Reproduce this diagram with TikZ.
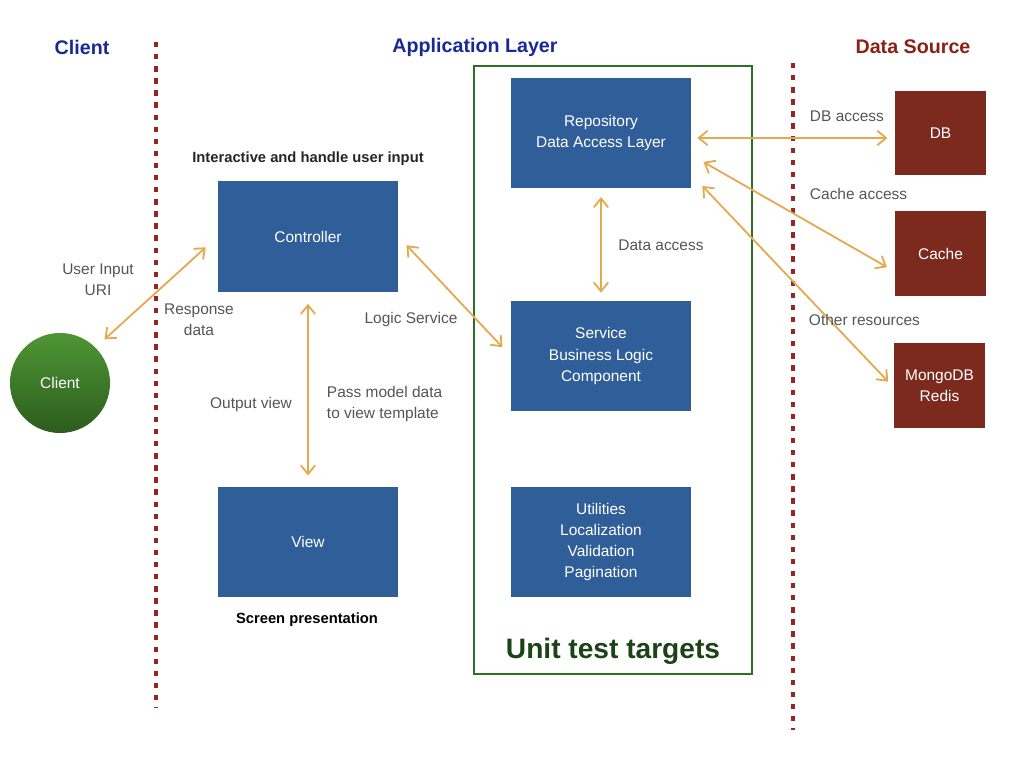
\documentclass[tikz,border=0pt]{standalone}
\usepackage{fontspec}
\setmainfont{Liberation Sans}
\usetikzlibrary{arrows.meta}
\definecolor{boxblue}{RGB}{47,94,153}
\definecolor{boxred}{RGB}{125,42,30}
\definecolor{linkorange}{RGB}{228,170,80}
\definecolor{headblue}{RGB}{24,40,150}
\definecolor{headred}{RGB}{140,32,22}
\definecolor{sepred}{RGB}{150,38,38}
\definecolor{testgreen}{RGB}{47,110,38}
\definecolor{labelgray}{RGB}{85,85,85}
\definecolor{clienttop}{RGB}{78,150,52}
\definecolor{clientbot}{RGB}{44,92,30}
\begin{document}
\begin{tikzpicture}[x=0.025cm,y=-0.025cm,
  bloc/.style={fill=boxblue,text=white,minimum width=4.5cm,minimum height=2.75cm,align=center,font=\fontsize{11}{15}\selectfont},
  src/.style={fill=boxred,text=white,minimum width=2.275cm,minimum height=2.1cm,align=center,font=\fontsize{11}{15}\selectfont},
  lien/.style={draw=linkorange,line width=1.3pt,{Straight Barb[length=2.2mm,width=3.6mm]}-{Straight Barb[length=2.2mm,width=3.6mm]}},
  lbl/.style={text=labelgray,align=center,font=\fontsize{11}{15}\selectfont},
  titre/.style={font=\fontsize{14}{16}\selectfont\bfseries},
  sep/.style={draw=sepred,line width=2.4pt,dash pattern=on 3.8pt off 4.8pt}]
\useasboundingbox (0,0) rectangle (1024,768);
% column separators and test frame
\draw[sep] (156,42) -- (156,708);
\draw[sep] (793,63) -- (793,730);
\draw[draw=testgreen,line width=1.8pt] (474,66) rectangle (752,674);
% headings
\node[titre,text=headblue] (hclient) at (82,47) {Client};
\node[titre,text=headblue] (happ) at (475,47) {Application Layer};
\node[titre,text=headred] (hdata) at (913,47) {Data Source};
\node[font=\fontsize{20}{24}\selectfont\bfseries,text=testgreen!60!black] (unit) at (613,651) {Unit test targets};
% boxes
\foreach \n/\x/\y/\t in {ctrl/308/236.5/Controller, view/308/542/View,
    repo/601/133/{Repository\\Data Access Layer},
    svc/601/356/{Service\\Business Logic\\Component},
    util/601/542/{Utilities\\Localization\\Validation\\Pagination}}
  \node[bloc] (\n) at (\x,\y) {\t};
\foreach \n/\x/\y/\t in {db/940.5/133/DB, cache/940.5/253.5/Cache, mongo/939.5/385.5/{MongoDB\\Redis}}
  \node[src] (\n) at (\x,\y) {\t};
\node[circle,minimum size=2.5cm,top color=clienttop,bottom color=clientbot,text=white,font=\fontsize{11}{15}\selectfont] (client) at (60,383) {Client};
\node[font=\fontsize{10.5}{12}\selectfont\bfseries,text=black!85] (ctrlnote) at (308,159) {Interactive and handle user input};
\node[font=\fontsize{10.5}{12}\selectfont\bfseries] (viewnote) at (307,620) {Screen presentation};
% connectors
\draw[lien,shorten <=0.3cm,shorten >=0.4cm] (client.45) -- (ctrl.west);
\draw[lien,shorten <=0.3cm,shorten >=0.28cm] (ctrl.south) -- (view.north);
\draw[lien,shorten <=0.3cm,shorten >=0.3cm] (ctrl.east) -- (svc.west);
\draw[lien,shorten <=0.22cm,shorten >=0.2cm] (repo.south) -- (svc.north);
\draw[lien,shorten <=0.15cm,shorten >=0.18cm] ([yshift=-0.125cm]repo.east) -- ([yshift=-0.125cm]db.west);
\draw[lien,shorten <=0.35cm,shorten >=0.22cm] ([yshift=-0.55cm]repo.east) -- ([yshift=-0.45cm]cache.west);
\draw[lien,shorten <=0.4cm,shorten >=0.2cm] ([yshift=0.35cm]repo.south east) -- ([yshift=-0.05cm]mongo.west);
% connector labels
\node[lbl] (luri) at (98,280) {User Input\\URI};
\node[lbl] (lresp) at (199,320) {Response\\data};
\node[lbl] (llogic) at (411,319) {Logic Service};
\node[lbl] (lout) at (251,404) {Output view};
\node[lbl,align=left,anchor=west] (lpass) at (322,404) {Pass model data\\to view template};
\node[lbl] (ldata) at (661,245) {Data access};
\node[lbl,anchor=west] (ldb) at (805,116) {DB access};
\node[lbl,anchor=west] (lcache) at (805,194) {Cache access};
\node[lbl,anchor=west] (lother) at (804,320) {Other resources};
\end{tikzpicture}
\end{document}
